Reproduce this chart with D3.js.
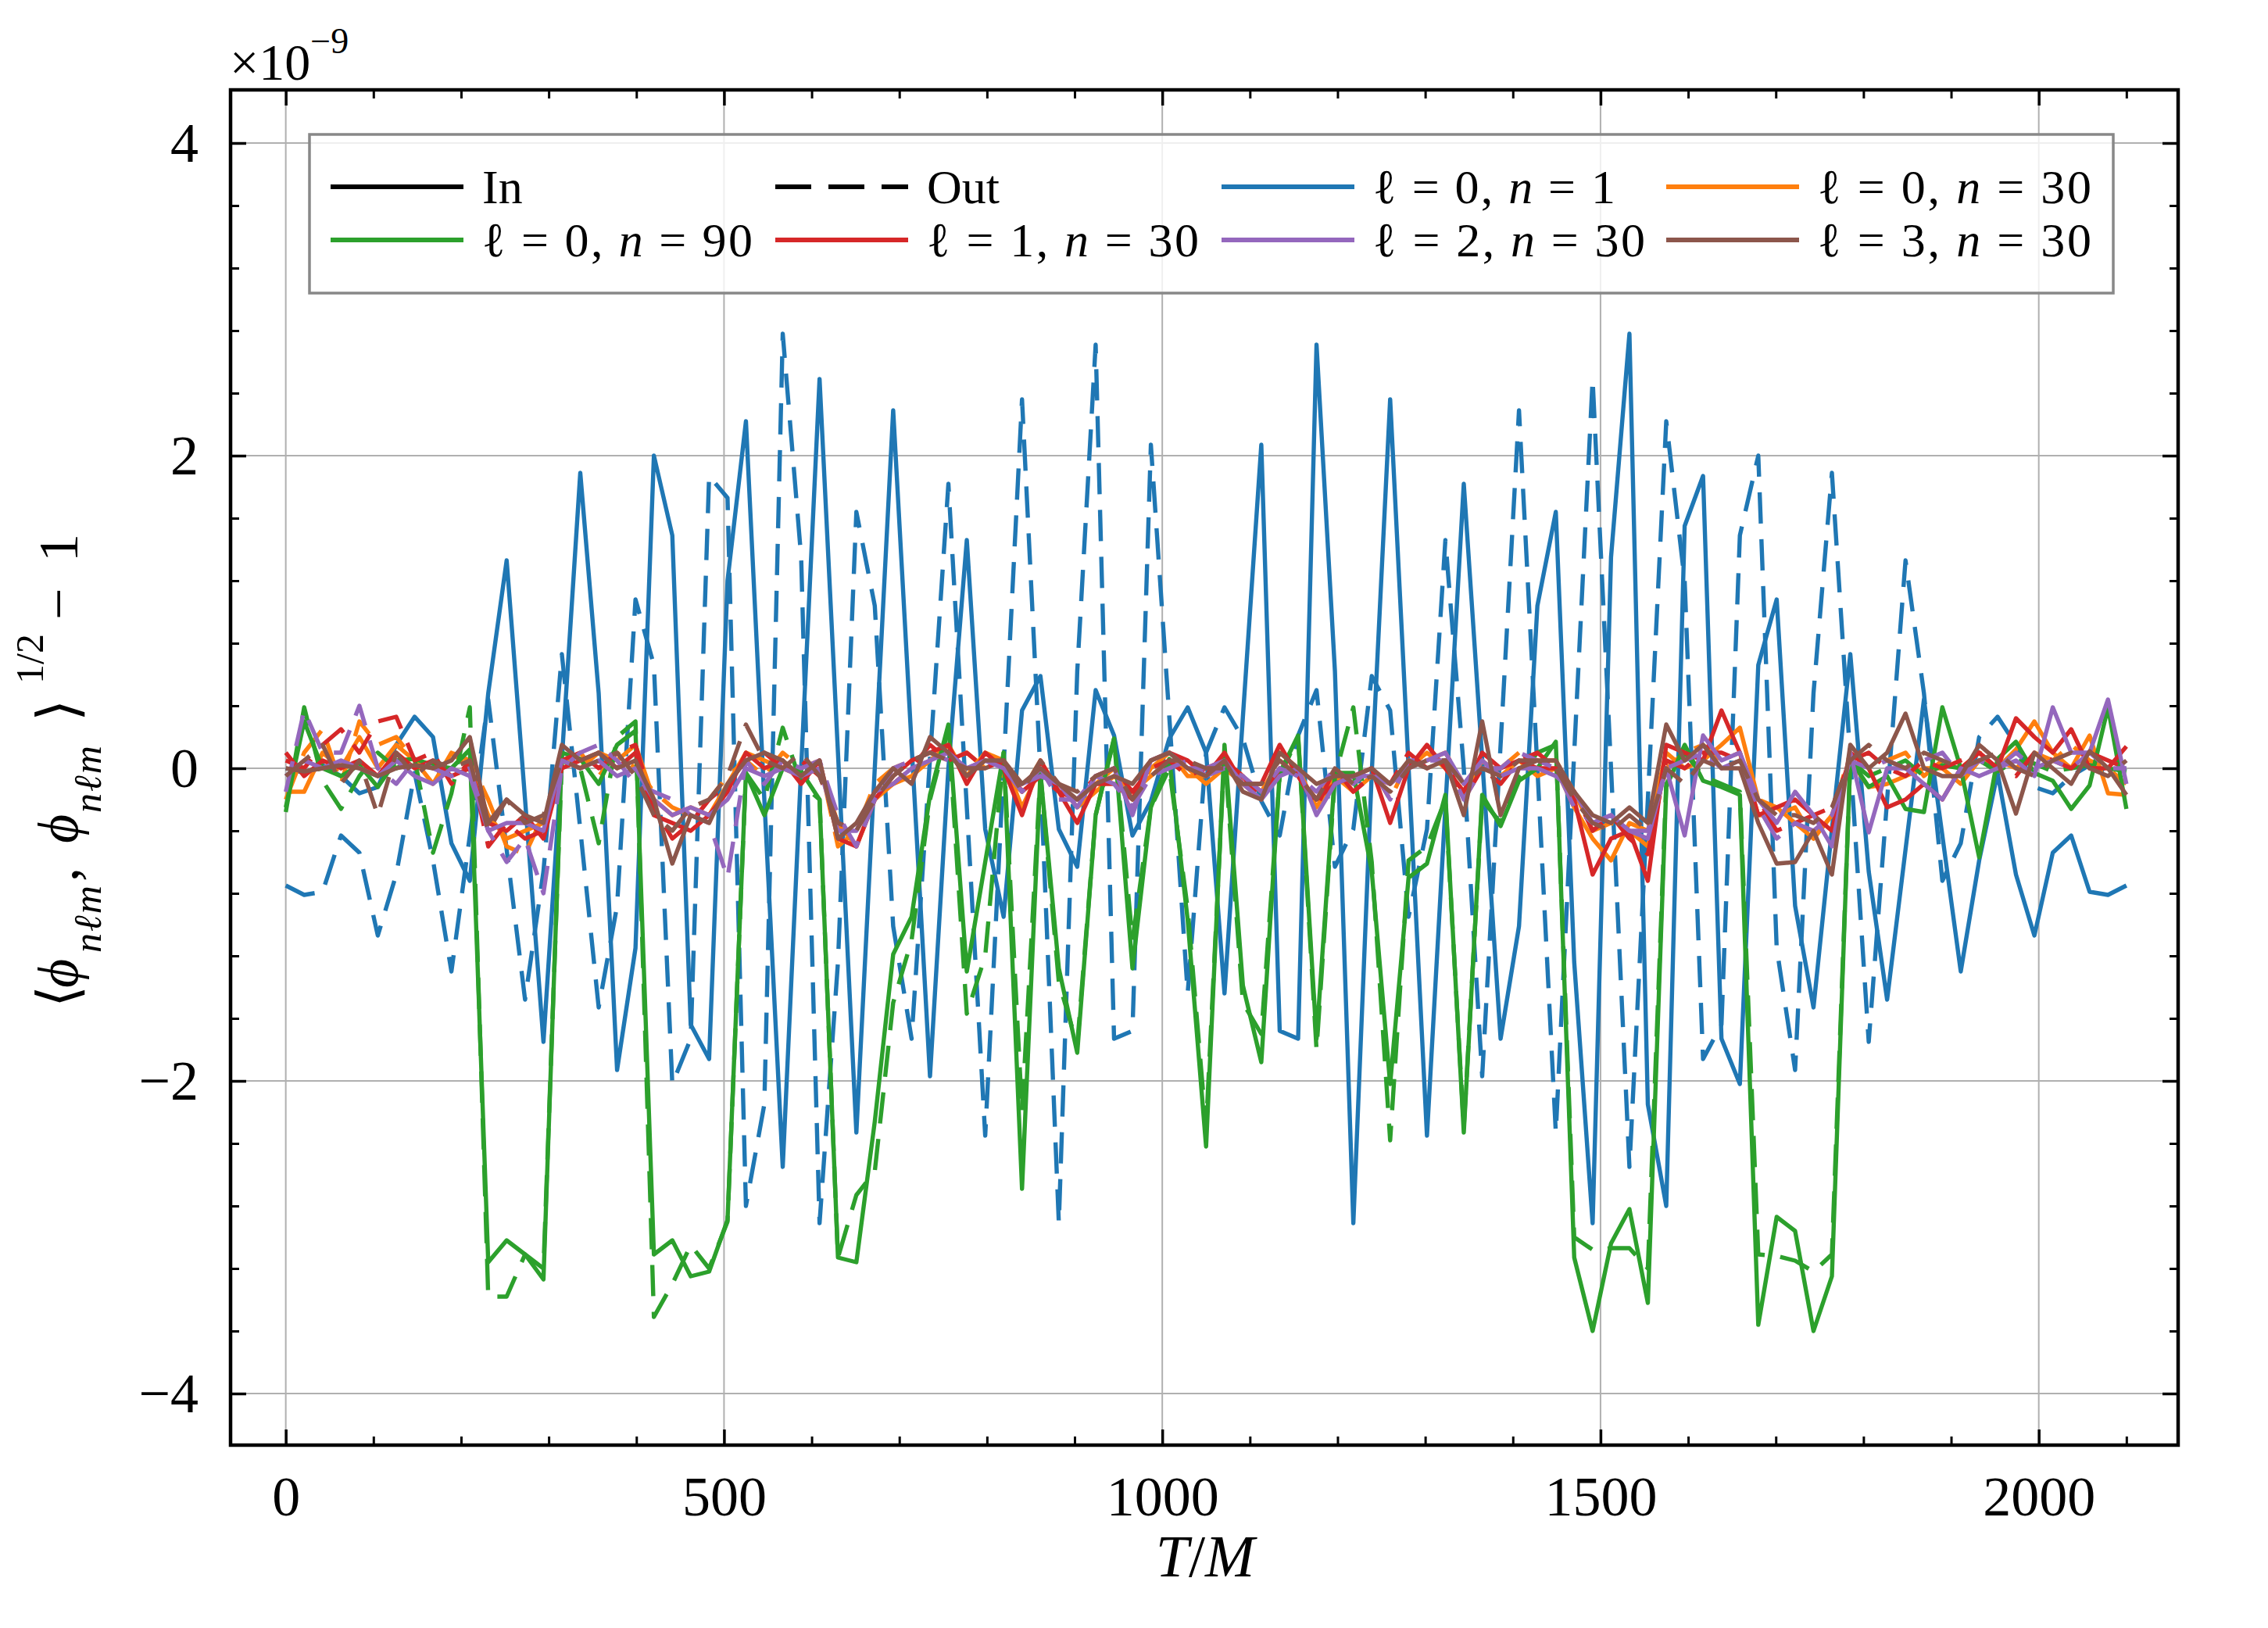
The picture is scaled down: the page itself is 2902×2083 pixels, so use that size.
<!DOCTYPE html>
<html>

<head>
    <meta charset="utf-8" />
    <title>overlap.html</title>
</head>

<script src="https://d3js.org/d3.v7.min.js"></script>

<style>
    body {
        margin: 0;
        background: #ffffff;
    }

    svg {
        display: block;
    }

    text {
        font-family: "Liberation Serif", "DejaVu Serif", serif;
        fill: #000000;
    }

    .grid line {
        stroke: #b0b0b0;
        stroke-width: 2px;
    }

    .axis path {
        display: none;
    }

    .axis line {
        stroke: #000000;
        stroke-width: 3.5px;
    }

    .axis.minor line {
        stroke-width: 3px;
    }

    .axis text {
        font-size: 72px;
    }

    .series {
        fill: none;
        stroke-width: 5.4px;
        stroke-linejoin: round;
    }

    .series.out {
        stroke-dasharray: 40, 20;
    }
</style>

<body onload="startVisualize()">
    <svg id="chart" width="2902" height="2083"></svg>
</body>

</html>

<script>
    // sample times T/M
    var times = [0, 21, 42, 63, 84, 105, 126, 147, 168, 189, 210, 231, 252, 273, 294, 315, 336, 357, 378, 399,
        420, 441, 462, 483, 504, 525, 546, 567, 588, 609, 630, 651, 672, 693, 714, 735, 756, 777, 798, 819,
        840, 861, 882, 903, 924, 945, 966, 987, 1008, 1029, 1050, 1071, 1092, 1113, 1134, 1155, 1176, 1197, 1218, 1239,
        1260, 1281, 1302, 1323, 1344, 1365, 1386, 1407, 1428, 1449, 1470, 1491, 1512, 1533, 1554, 1575, 1596, 1617, 1638, 1659,
        1680, 1701, 1722, 1743, 1764, 1785, 1806, 1827, 1848, 1869, 1890, 1911, 1932, 1953, 1974, 1995, 2016, 2037, 2058, 2079, 2100];

    // values in units of 1e-9
    var l0n1In = [0.0, -0.03, 0.02, -0.05, -0.16, -0.12, 0.15, 0.33, 0.2, -0.48, -0.72,
        0.48, 1.33, -0.2, -1.75, 0.06, 1.89, 0.48, -1.93, -1.15,
        2.0, 1.49, -1.64, -1.86, 1.2, 2.22, -0.2, -2.55, 0.0, 2.49,
        0.1, -2.33, 0.0, 2.29, 0.15, -1.97, 0.0, 1.46, -0.39, -0.95,
        0.37, 0.59, -0.39, -0.63, 0.5, 0.21, -0.43, -0.21, 0.19, 0.39,
        0.1, -1.44, 0.33, 2.07, -1.68, -1.73, 2.71, 0.62, -2.91, -0.03,
        2.36, 0.01, -2.35, -0.25, 1.82, 0.06, -1.73, -1.01, 1.04, 1.64,
        -1.24, -2.91, 1.35, 2.78, -2.15, -2.8, 1.55, 1.87, -1.73, -2.02,
        0.66, 1.08, -0.88, -1.53, -0.39, 0.73, -0.66, -1.48, -0.52, 0.44,
        -0.43, -1.30, -0.59, -0.03, -0.68, -1.07, -0.54, -0.43, -0.79, -0.81, -0.75];
    var l0n1Out = [-0.75, -0.81, -0.79, -0.43, -0.54, -1.07, -0.68, -0.03, -0.59, -1.30, -0.43,
        0.44, -0.52, -1.48, -0.66, 0.73, -0.39, -1.53, -0.88, 1.08,
        0.66, -2.02, -1.73, 1.87, 1.73, -2.8, -2.15, 2.78, 1.35, -2.91,
        -1.24, 1.64, 1.04, -1.01, -1.73, 0.06, 1.82, -0.25, -2.35, 0.01,
        2.36, -0.03, -2.91, 0.62, 2.71, -1.73, -1.68, 2.07, 0.33, -1.44,
        0.1, 0.39, 0.19, -0.21, -0.43, 0.21, 0.5, -0.63, -0.39, 0.59,
        0.37, -0.95, -0.39, 1.46, 0.0, -1.97, 0.15, 2.29, 0.0, -2.33,
        0.1, 2.49, 0.0, -2.55, -0.2, 2.22, 1.2, -1.86, -1.64, 1.49,
        2.0, -1.15, -1.93, 0.48, 1.89, 0.06, -1.75, -0.2, 1.33, 0.48,
        -0.72, -0.48, 0.2, 0.33, 0.15, -0.12, -0.16, -0.05, 0.02, -0.03, 0.0];

    var l0n30In = [-0.15, -0.15, 0.1, 0.0, 0.2, 0.0, 0.15, 0.05, -0.1, 0.1, 0.0,
        -0.3, -0.45, -0.4, -0.35, 0.05, 0.0, 0.1, 0.05, 0.15,
        -0.2, -0.3, -0.25, -0.3, -0.1, 0.1, 0.05, 0.0, -0.05, 0.0,
        -0.35, -0.5, -0.2, -0.1, -0.05, 0.05, 0.15, -0.05, 0.1, 0.05,
        -0.25, 0.0, -0.1, -0.25, -0.15, -0.05, -0.15, -0.05, 0.05, 0.0,
        -0.1, 0.0, -0.1, -0.2, 0.1, 0.0, -0.25, -0.05, -0.15, -0.05,
        -0.1, 0.0, 0.1, 0.0, -0.15, 0.05, -0.05, 0.05, -0.05, 0.0,
        -0.25, -0.45, -0.59, -0.35, -0.4, 0.1, 0.0, 0.05, 0.15, 0.26,
        -0.2, -0.25, -0.35, -0.45, -0.3, 0.05, -0.12, -0.1, -0.05, 0.0,
        0.0, -0.1, 0.05, 0.0, 0.12, 0.3, 0.1, 0.0, 0.21, -0.16, -0.17];
    var l0n30Out = [-0.2, 0.1, 0.25, -0.1, 0.3, 0.15, 0.2, 0.05, 0.0, 0.1, 0.05,
        -0.2, -0.5, -0.55, -0.3, 0.0, 0.1, -0.05, 0.1, 0.0,
        -0.15, -0.25, -0.3, -0.2, -0.05, 0.05, -0.05, 0.1, 0.0, 0.05,
        -0.5, -0.4, -0.1, 0.0, 0.05, 0.1, 0.05, 0.1, 0.0, -0.05,
        -0.15, 0.05, -0.15, -0.2, -0.1, 0.0, -0.2, 0.0, 0.1, -0.05,
        -0.05, 0.05, -0.05, -0.15, 0.05, -0.05, -0.2, 0.0, -0.1, 0.0,
        -0.2, 0.05, 0.05, 0.1, -0.1, 0.0, 0.0, 0.1, 0.05, 0.05,
        -0.15, -0.4, -0.35, -0.4, -0.5, 0.0, 0.1, 0.15, 0.05, 0.1,
        -0.3, -0.3, -0.25, -0.45, -0.3, 0.1, 0.0, 0.05, 0.1, -0.05,
        0.05, 0.0, 0.1, 0.05, 0.0, 0.1, 0.05, 0.15, 0.05, 0.0, -0.1];

    var l0n90In = [-0.25, 0.3, 0.0, -0.05, 0.02, -0.12, 0.05, 0.06, 0.02, 0.0, 0.12,
        -3.16, -3.02, -3.11, -3.27, 0.1, 0.06, -0.1, 0.15, 0.24,
        -3.11, -3.02, -3.25, -3.22, -2.89, -0.03, -0.3, 0.0, -0.02, -0.2,
        -3.13, -3.16, -2.26, -1.19, -0.95, -0.17, 0.28, -1.3, -0.6, 0.1,
        -2.69, -0.03, -1.28, -1.82, -0.3, 0.19, -1.28, -0.25, 0.06, -0.97,
        -2.42, 0.15, -1.39, -1.88, -0.03, 0.21, -1.73, -0.03, -0.03, -0.66,
        -2.02, -0.7, -0.61, -0.17, -2.33, -0.17, -0.37, -0.08, 0.0, 0.17,
        -3.13, -3.6, -3.04, -2.82, -3.42, -0.12, 0.15, -0.08, -0.12, -0.17,
        -3.56, -2.87, -2.96, -3.6, -3.25, 0.06, -0.12, -0.05, -0.26, -0.28,
        0.39, 0.0, -0.57, 0.06, 0.17, -0.03, -0.08, -0.26, -0.11, 0.39, -0.26];
    var l0n90Out = [-0.28, 0.39, -0.08, -0.26, -0.05, 0.1, 0.0, 0.06, -0.54, -0.16, 0.39,
        -3.38, -3.38, -3.11, -3.2, 0.05, 0.0, -0.48, 0.2, 0.3,
        -3.51, -3.3, -3.05, -3.2, -2.9, -0.03, -0.2, 0.26, -0.1, -0.2,
        -3.13, -2.73, -2.58, -1.5, -1.1, -0.2, 0.25, -1.57, -1.2, 0.1,
        -2.2, -0.03, -1.37, -1.77, -0.3, 0.19, -1.1, -0.25, 0.0, -0.9,
        -2.3, 0.1, -1.5, -1.7, -0.05, 0.2, -1.8, -0.05, 0.39, -0.6,
        -2.38, -0.59, -0.5, -0.2, -2.3, -0.2, -0.35, -0.05, 0.1, 0.15,
        -3.0, -3.08, -3.07, -3.07, -3.2, -0.1, 0.1, -0.05, -0.1, -0.15,
        -3.11, -3.12, -3.15, -3.22, -3.11, 0.05, -0.05, 0.0, 0.05, -0.05,
        0.02, 0.0, 0.05, -0.02, 0.05, 0.03, -0.02, 0.0, 0.02, 0.0, -0.02];

    var l1n30In = [0.1, -0.05, 0.05, 0.0, 0.05, -0.05, 0.1, 0.0, 0.05, -0.05, 0.0,
        -0.35, -0.4, -0.3, -0.45, 0.0, 0.05, 0.1, 0.0, 0.1,
        -0.3, -0.35, -0.4, -0.3, -0.15, 0.1, 0.0, 0.05, -0.1, 0.05,
        -0.45, -0.5, -0.2, -0.05, 0.05, 0.1, 0.15, -0.1, 0.1, 0.0,
        -0.3, 0.05, -0.15, -0.35, -0.1, -0.1, -0.2, 0.05, 0.1, 0.05,
        -0.05, 0.1, -0.1, -0.1, 0.15, -0.05, -0.2, -0.1, -0.05, 0.0,
        -0.35, 0.0, 0.15, 0.0, -0.15, 0.1, 0.0, 0.05, 0.0, 0.0,
        -0.2, -0.68, -0.45, -0.4, -0.72, 0.15, 0.1, 0.05, 0.37, 0.1,
        -0.3, -0.25, -0.2, -0.3, -0.4, 0.1, 0.0, -0.25, -0.2, -0.1,
        -0.2, 0.0, 0.1, 0.0, 0.32, 0.2, 0.1, 0.25, 0.0, 0.0, 0.14];
    var l1n30Out = [0.05, 0.0, 0.15, 0.25, 0.1, 0.3, 0.33, 0.05, 0.1, -0.1, 0.05,
        -0.5, -0.35, -0.45, -0.4, 0.05, 0.1, 0.0, 0.1, 0.15,
        -0.25, -0.45, -0.35, -0.2, -0.1, 0.05, 0.1, 0.0, 0.05, -0.05,
        -0.35, -0.4, -0.15, -0.1, 0.0, 0.15, 0.05, 0.1, 0.0, 0.05,
        -0.15, -0.05, -0.15, -0.2, -0.05, 0.0, -0.15, 0.0, 0.05, -0.05,
        0.0, 0.05, -0.05, -0.2, 0.0, -0.05, -0.25, 0.0, -0.15, -0.05,
        -0.1, 0.1, 0.0, 0.05, -0.2, 0.0, -0.1, 0.05, 0.1, 0.0,
        -0.15, -0.4, -0.3, -0.45, -0.55, 0.05, 0.0, 0.1, 0.1, 0.05,
        -0.2, -0.4, -0.35, -0.3, -0.25, 0.05, 0.1, 0.0, -0.05, 0.05,
        0.0, 0.05, 0.1, 0.0, -0.05, 0.1, 0.05, 0.0, 0.1, 0.05, 0.0];

    var l2n30In = [-0.05, 0.05, 0.0, 0.05, 0.0, -0.05, 0.05, -0.05, -0.1, 0.0, -0.05,
        -0.4, -0.35, -0.35, -0.4, 0.05, 0.0, 0.05, -0.05, 0.0,
        -0.2, -0.3, -0.25, -0.3, -0.2, 0.0, -0.05, 0.0, -0.05, 0.0,
        -0.4, -0.4, -0.15, -0.1, 0.0, 0.05, 0.1, 0.0, 0.05, 0.0,
        -0.1, -0.05, -0.1, -0.25, -0.05, 0.0, -0.3, 0.05, 0.1, 0.0,
        0.0, 0.05, -0.1, -0.2, -0.05, 0.0, -0.3, -0.1, -0.05, -0.05,
        -0.1, 0.0, 0.05, 0.1, -0.1, 0.05, -0.05, 0.0, 0.0, -0.05,
        -0.15, -0.35, -0.3, -0.4, -0.45, 0.0, -0.43, 0.21, 0.05, 0.1,
        -0.2, -0.35, -0.15, -0.3, -0.5, 0.1, -0.41, 0.0, 0.0, -0.1,
        -0.2, 0.0, -0.05, 0.0, 0.05, -0.05, 0.39, 0.1, 0.1, 0.44, -0.1];
    var l2n30Out = [-0.15, 0.37, 0.1, 0.1, 0.4, 0.0, -0.1, 0.05, 0.0, -0.05, 0.0,
        -0.4, -0.6, -0.45, -0.8, 0.0, 0.1, 0.15, 0.05, -0.1,
        -0.15, -0.2, -0.3, -0.35, -0.7, 0.05, -0.1, 0.05, 0.0, 0.05,
        -0.3, -0.5, -0.2, 0.0, 0.05, 0.1, 0.05, 0.0, 0.05, 0.0,
        -0.15, 0.0, -0.2, -0.2, -0.05, -0.1, -0.25, -0.05, 0.0, 0.05,
        -0.05, 0.0, -0.05, -0.15, 0.0, -0.05, -0.15, 0.0, -0.1, 0.0,
        -0.2, 0.05, 0.05, 0.05, -0.2, 0.0, 0.0, 0.1, 0.05, 0.0,
        -0.25, -0.35, -0.3, -0.4, -0.4, 0.0, 0.05, 0.1, 0.0, 0.05,
        -0.25, -0.45, -0.35, -0.4, -0.3, 0.05, 0.0, 0.05, 0.0, 0.05,
        0.1, -0.05, 0.05, 0.0, 0.1, 0.0, 0.05, 0.0, 0.1, 0.0, 0.0];

    var l3n30In = [0.0, -0.02, 0.0, 0.02, 0.0, -0.05, 0.0, 0.02, 0.0, 0.05, 0.2,
        -0.35, -0.2, -0.3, -0.35, 0.15, 0.05, 0.1, 0.0, 0.05,
        -0.2, -0.61, -0.3, -0.35, -0.1, 0.05, 0.1, 0.05, -0.05, 0.05,
        -0.45, -0.35, -0.15, 0.0, -0.1, 0.2, 0.1, -0.05, 0.05, 0.05,
        -0.1, 0.0, -0.1, -0.2, -0.1, -0.05, -0.1, 0.05, 0.1, 0.0,
        -0.05, 0.05, -0.15, -0.2, 0.1, 0.0, -0.1, -0.05, -0.05, 0.0,
        -0.1, 0.05, 0.0, 0.05, -0.3, 0.3, -0.3, 0.0, 0.05, 0.05,
        -0.15, -0.3, -0.35, -0.25, -0.35, 0.28, 0.05, 0.15, 0.0, 0.0,
        -0.35, -0.61, -0.6, -0.4, -0.68, 0.15, 0.0, 0.1, 0.35, 0.0,
        -0.05, -0.05, 0.15, 0.05, -0.29, 0.1, 0.0, -0.1, 0.11, 0.0, -0.17];
    var l3n30Out = [-0.05, 0.05, 0.15, -0.1, 0.05, -0.3, 0.1, -0.05, 0.05, 0.0, 0.05,
        -0.4, -0.2, -0.35, -0.3, 0.05, 0.0, 0.05, 0.1, -0.05,
        -0.3, -0.4, -0.25, -0.2, -0.05, 0.28, 0.05, 0.0, 0.1, -0.05,
        -0.35, -0.4, -0.2, -0.05, 0.05, 0.1, 0.05, 0.0, 0.0, 0.05,
        -0.15, 0.05, -0.1, -0.15, -0.05, 0.0, -0.2, -0.05, 0.05, 0.05,
        0.0, 0.0, -0.1, -0.1, 0.05, -0.05, -0.2, 0.0, -0.1, -0.05,
        -0.15, 0.0, 0.05, 0.05, -0.1, 0.0, -0.05, 0.05, 0.05, 0.0,
        -0.2, -0.35, -0.4, -0.3, -0.4, 0.0, -0.1, 0.05, 0.0, 0.05,
        -0.2, -0.3, -0.3, -0.35, -0.25, 0.05, 0.15, 0.05, 0.0, 0.1,
        0.05, 0.0, 0.05, 0.1, 0.0, -0.05, 0.05, 0.1, 0.0, -0.05, 0.05];

    var xMajor = [0, 500, 1000, 1500, 2000];
    var xMinor = [100, 200, 300, 400, 600, 700, 800, 900, 1100, 1200, 1300, 1400, 1600, 1700, 1800, 1900, 2100];
    var yMajor = [-4, -2, 0, 2, 4];
    var yMinor = [-3.6, -3.2, -2.8, -2.4, -1.6, -1.2, -0.8, -0.4, 0.4, 0.8, 1.2, 1.6, 2.4, 2.8, 3.2, 3.6];

    function startVisualize() {
        var plot = { left: 295, right: 2787, top: 115, bottom: 1849 };
        var x = d3.scaleLinear().domain([-63, 2159]).range([plot.left, plot.right]);
        var y = d3.scaleLinear().domain([-4.33, 4.34]).range([plot.bottom, plot.top]);

        var series = [
            { color: '#1f77b4', vin: l0n1In, vout: l0n1Out },
            { color: '#ff7f0e', vin: l0n30In, vout: l0n30Out },
            { color: '#2ca02c', vin: l0n90In, vout: l0n90Out },
            { color: '#d62728', vin: l1n30In, vout: l1n30Out },
            { color: '#9467bd', vin: l2n30In, vout: l2n30Out },
            { color: '#8c564b', vin: l3n30In, vout: l3n30Out }
        ];

        var svg = d3.select('#chart');

        svg.append('defs').append('clipPath').attr('id', 'plotclip')
            .append('rect')
            .attr('x', plot.left).attr('y', plot.top)
            .attr('width', plot.right - plot.left).attr('height', plot.bottom - plot.top);

        // grid
        var grid = svg.append('g').attr('class', 'grid');
        grid.selectAll('line.gx').data(xMajor).enter().append('line')
            .attr('x1', function(d) { return x(d); }).attr('x2', function(d) { return x(d); })
            .attr('y1', plot.top).attr('y2', plot.bottom);
        grid.selectAll('line.gy').data(yMajor).enter().append('line')
            .attr('y1', function(d) { return y(d); }).attr('y2', function(d) { return y(d); })
            .attr('x1', plot.left).attr('x2', plot.right);

        // lines
        var line = d3.line()
            .x(function(d, i) { return x(times[i]); })
            .y(function(d) { return y(d); });
        var lines = svg.append('g').attr('clip-path', 'url(#plotclip)');
        series.forEach(function(s) {
            lines.append('path').attr('class', 'series in')
                .attr('stroke', s.color).attr('d', line(s.vin));
            lines.append('path').attr('class', 'series out')
                .attr('stroke', s.color).attr('d', line(s.vout));
        });

        // axes, inward ticks on all sides
        var fmt = function(d) { return d < 0 ? '\u2212' + Math.abs(d) : d; };
        svg.append('g').attr('class', 'axis')
            .attr('transform', 'translate(0,' + plot.bottom + ')')
            .call(d3.axisBottom(x).tickValues(xMajor).tickSizeInner(-20).tickSizeOuter(0).tickPadding(39).tickFormat(fmt));
        svg.append('g').attr('class', 'axis minor')
            .attr('transform', 'translate(0,' + plot.bottom + ')')
            .call(d3.axisBottom(x).tickValues(xMinor).tickSizeInner(-11).tickSizeOuter(0).tickFormat(''));
        svg.append('g').attr('class', 'axis')
            .attr('transform', 'translate(0,' + plot.top + ')')
            .call(d3.axisTop(x).tickValues(xMajor).tickSizeInner(-20).tickSizeOuter(0).tickFormat(''));
        svg.append('g').attr('class', 'axis minor')
            .attr('transform', 'translate(0,' + plot.top + ')')
            .call(d3.axisTop(x).tickValues(xMinor).tickSizeInner(-11).tickSizeOuter(0).tickFormat(''));
        svg.append('g').attr('class', 'axis')
            .attr('transform', 'translate(' + plot.left + ',0)')
            .call(d3.axisLeft(y).tickValues(yMajor).tickSizeInner(-20).tickSizeOuter(0).tickPadding(41).tickFormat(fmt));
        svg.append('g').attr('class', 'axis minor')
            .attr('transform', 'translate(' + plot.left + ',0)')
            .call(d3.axisLeft(y).tickValues(yMinor).tickSizeInner(-11).tickSizeOuter(0).tickFormat(''));
        svg.append('g').attr('class', 'axis')
            .attr('transform', 'translate(' + plot.right + ',0)')
            .call(d3.axisRight(y).tickValues(yMajor).tickSizeInner(-20).tickSizeOuter(0).tickFormat(''));
        svg.append('g').attr('class', 'axis minor')
            .attr('transform', 'translate(' + plot.right + ',0)')
            .call(d3.axisRight(y).tickValues(yMinor).tickSizeInner(-11).tickSizeOuter(0).tickFormat(''));

        svg.selectAll('.axis text').attr('font-family', '"Liberation Serif", "DejaVu Serif", serif');

        // frame
        svg.append('rect')
            .attr('x', plot.left).attr('y', plot.top)
            .attr('width', plot.right - plot.left).attr('height', plot.bottom - plot.top)
            .attr('fill', 'none').attr('stroke', '#000').attr('stroke-width', 4.5);

        // offset text x10^-9
        var off = svg.append('text').attr('x', 294).attr('y', 102).style('font-size', '66px');
        off.append('tspan').text('\u00d710');
        off.append('tspan').attr('dy', -34).style('font-size', '46px').text('\u22129');

        // x label
        var xl = svg.append('text').attr('x', 1542).attr('y', 2017)
            .attr('text-anchor', 'middle').style('font-size', '76px');
        xl.append('tspan').style('font-style', 'italic').text('T');
        xl.append('tspan').text('/');
        xl.append('tspan').style('font-style', 'italic').text('M');

        // y label, pieces placed along the rotated baseline (x = -screen y)
        var yl = svg.append('text')
            .attr('transform', 'translate(99,0) rotate(-90)')
            .style('font-size', '72px');
        var ylParts = [
            { s: 1289, t: '\u27e8', size: 72, dy: 0, it: false, ls: 0 },
            { s: 1264, t: '\u03d5', size: 72, dy: 0, it: true, ls: 0 },
            { s: 1219, t: 'n\u2113m', size: 50, dy: 30, it: true, ls: 2 },
            { s: 1128, t: ',', size: 72, dy: 0, it: false, ls: 0 },
            { s: 1079, t: '\u03d5', size: 72, dy: 0, it: true, ls: 0 },
            { s: 1040, t: 'n\u2113m', size: 50, dy: 30, it: true, ls: 2 },
            { s: 923, t: '\u27e9', size: 72, dy: 0, it: false, ls: 0 },
            { s: 875, t: '1/2', size: 50, dy: -44, it: false, ls: 0 },
            { s: 793, t: '\u2212', size: 72, dy: 0, it: false, ls: 0 },
            { s: 719, t: '1', size: 72, dy: 0, it: false, ls: 0 }
        ];
        yl.selectAll('tspan').data(ylParts).enter().append('tspan')
            .attr('x', function(d) { return -d.s; })
            .attr('y', function(d) { return d.dy; })
            .style('font-size', function(d) { return d.size + 'px'; })
            .style('font-style', function(d) { return d.it ? 'italic' : 'normal'; })
            .style('letter-spacing', function(d) { return d.ls + 'px'; })
            .text(function(d) { return d.t; });

        // legend
        var legendItems = [
            { x: 423, y: 239, color: '#000', dash: false, parts: [['In', false]], w: 0 },
            { x: 992, y: 239, color: '#000', dash: true, parts: [['Out', false]], w: 0 },
            { x: 1563, y: 239, color: '#1f77b4', dash: false, parts: [['\u2113 = 0, ', false], ['n', true], [' = 1', false]], w: 310 },
            { x: 2132, y: 239, color: '#ff7f0e', dash: false, parts: [['\u2113 = 0, ', false], ['n', true], [' = 30', false]], w: 350 },
            { x: 423, y: 307, color: '#2ca02c', dash: false, parts: [['\u2113 = 0, ', false], ['n', true], [' = 90', false]], w: 346 },
            { x: 992, y: 307, color: '#d62728', dash: false, parts: [['\u2113 = 1, ', false], ['n', true], [' = 30', false]], w: 348 },
            { x: 1563, y: 307, color: '#9467bd', dash: false, parts: [['\u2113 = 2, ', false], ['n', true], [' = 30', false]], w: 348 },
            { x: 2132, y: 307, color: '#8c564b', dash: false, parts: [['\u2113 = 3, ', false], ['n', true], [' = 30', false]], w: 350 }
        ];
        var lg = svg.append('g');
        lg.append('rect')
            .attr('x', 396).attr('y', 172).attr('width', 2308).attr('height', 203)
            .attr('fill', '#fff').attr('fill-opacity', 0.8)
            .attr('stroke', '#888').attr('stroke-width', 3.5);
        var li = lg.selectAll('g.item').data(legendItems).enter().append('g').attr('class', 'item');
        li.append('line')
            .attr('x1', function(d) { return d.x; }).attr('x2', function(d) { return d.x + 170; })
            .attr('y1', function(d) { return d.y; }).attr('y2', function(d) { return d.y; })
            .attr('stroke', function(d) { return d.color; })
            .attr('stroke-width', 5.8)
            .attr('stroke-dasharray', function(d) { return d.dash ? '46,22' : null; });
        li.each(function(d) {
            var t = d3.select(this).append('text')
                .attr('x', d.x + 194).attr('y', d.y + 21)
                .style('font-size', '62px');
            if (d.w) t.attr('textLength', d.w).attr('lengthAdjust', 'spacing');
            d.parts.forEach(function(p) {
                t.append('tspan').style('font-style', p[1] ? 'italic' : 'normal').text(p[0]);
            });
        });
    }
</script>
